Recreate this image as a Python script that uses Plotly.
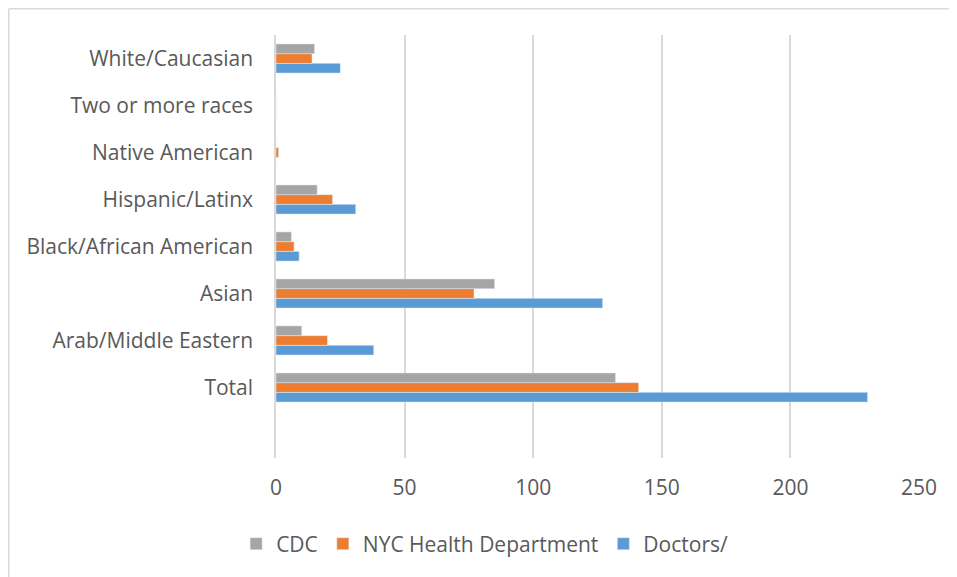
import plotly.graph_objects as go

# categories listed bottom to top, as the chart shows them
categories = ["Total", "Arab/Middle Eastern", "Asian", "Black/African American",
              "Hispanic/Latinx", "Native American", "Two or more races", "White/Caucasian"]

cdc = [132, 10, 85, 6, 16, 0, 0, 15]
nyc_health = [141, 20, 77, 7, 22, 1, 0, 14]
doctors = [230, 38, 127, 9, 31, 0, 0, 25]

x_ticks = [0, 50, 100, 150, 200, 250]

# page adds an 8px body margin, so the figure is sized to the remaining space
W, H = 949, 569
L, R, T, B = 268, 38, 27, 117

fig = go.Figure()

# grouped horizontal bars: first trace sits lowest in each group
fig.add_trace(go.Bar(y=categories, x=doctors, name="Doctors/", orientation="h",
                     marker_color="#5B9BD5"))
fig.add_trace(go.Bar(y=categories, x=nyc_health, name="NYC Health Department", orientation="h",
                     marker_color="#ED7D31"))
fig.add_trace(go.Bar(y=categories, x=cdc, name="CDC", orientation="h",
                     marker_color="#A5A5A5"))

# outer chart border (left and top edges visible)
pw, ph = W - L - R, H - T - B
bx = (0.75 - L) / pw
by = (H - B - 0.75) / ph
fig.add_shape(type="line", xref="paper", yref="paper", x0=bx, x1=bx, y0=by, y1=-5,
              line=dict(color="#d9d9d9", width=1.5))
fig.add_shape(type="line", xref="paper", yref="paper", x0=bx, x1=5, y0=by, y1=by,
              line=dict(color="#d9d9d9", width=1.5))

fig.update_layout(
    width=W, height=H,
    margin=dict(l=L, r=R, t=T, b=B, pad=0),
    plot_bgcolor="white",
    paper_bgcolor="white",
    barmode="group",
    bargap=0.38,
    bargroupgap=0,
    font=dict(family="Open Sans", size=21, color="#595959"),
    xaxis=dict(range=[0, 250], tickvals=x_ticks, showgrid=True, gridcolor="#d9d9d9",
               gridwidth=1.5, zeroline=False, showline=False, ticklabelstandoff=15,
               fixedrange=True),
    yaxis=dict(type="category", categoryorder="array", categoryarray=categories,
               range=[-1.5, 7.5], showgrid=False, zeroline=False, showline=True,
               linecolor="#d9d9d9", linewidth=1.5, ticklabelstandoff=17),
    legend=dict(orientation="h", traceorder="reversed", x=-0.062, xanchor="left",
                y=-0.155, yanchor="top", font=dict(size=21, color="#595959")),
    showlegend=True,
)

fig.write_html("out.html")
